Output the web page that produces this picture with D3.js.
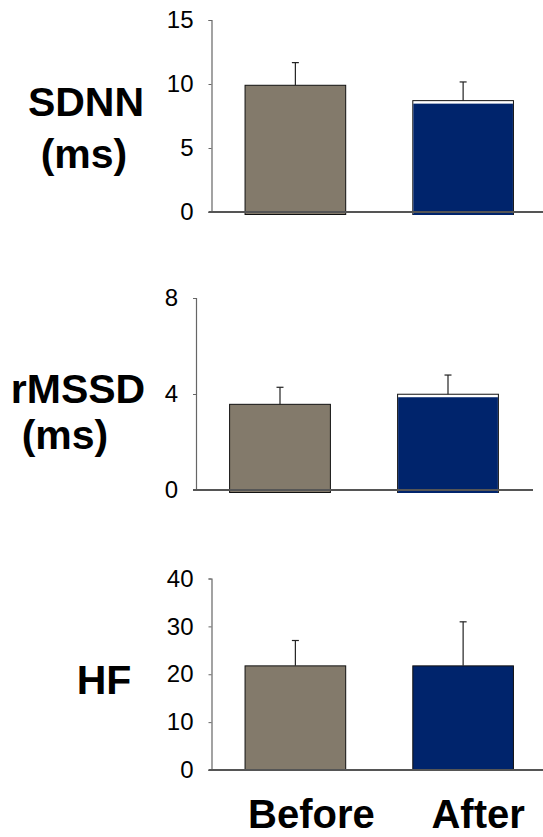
<!DOCTYPE html>
<html><head><meta charset="utf-8">
<script src="https://cdn.jsdelivr.net/npm/d3@7"></script>
<style>body{margin:0;background:#fff}svg{display:block}</style>
</head><body>
<script>
const categories = ["Before", "After"];
const metrics = ["SDNN", "rMSSD", "HF"];
const sdnnMeans = [9.9, 8.7];
const sdnnErrors = [1.77, 1.46];
const rmssdMeans = [3.57, 3.99];
const rmssdErrors = [0.71, 0.80];
const hfMeans = [21.75, 21.75];
const hfErrors = [5.3, 9.2];
const sdnnTicks = [0, 5, 10, 15];
const rmssdTicks = [0, 4, 8];
const hfTicks = [0, 10, 20, 30, 40];

const colors = ["#837a6b", "#00246c"];
const W = 543, H = 837;
const svg = d3.select("body").append("svg").attr("width", W).attr("height", H);

const panels = [
  {means: sdnnMeans, errs: sdnnErrors, ticks: sdnnTicks, max: 15, x0: 211.5, x1: 547, xEnd: 543, yTop: 20, yBot: 212,
   title: ["SDNN", "(ms)"], tpos: [[86, 116], [84, 168]], overhang: 2.5, gap: true},
  {means: rmssdMeans, errs: rmssdErrors, ticks: rmssdTicks, max: 8, x0: 196, x1: 532, xEnd: 533, yTop: 298, yBot: 490,
   title: ["rMSSD", "(ms)"], tpos: [[78, 403], [65, 449]], overhang: 2.5, gap: true},
  {means: hfMeans, errs: hfErrors, ticks: hfTicks, max: 40, x0: 211.5, x1: 547, xEnd: 543, yTop: 578.5, yBot: 770,
   title: ["HF"], tpos: [[104, 694]], overhang: 0, gap: false}
];

panels.forEach((p, pi) => {
  const g = svg.append("g");
  const x = d3.scaleBand().domain(categories).range([p.x0, p.x1]).paddingInner(0.4).paddingOuter(0.2);
  const y = d3.scaleLinear().domain([0, p.max]).range([p.yBot, p.yTop]);

  // y axis
  const ax = g.append("g").attr("transform", `translate(${p.x0},0)`)
    .call(d3.axisLeft(y).tickValues(p.ticks).tickSize(3).tickPadding(15).tickFormat(d3.format("d")));
  ax.select(".domain").attr("stroke", "#666").attr("stroke-width", 1.2);
  ax.selectAll(".tick line").attr("stroke", "#666");
  ax.selectAll(".tick text").attr("font-family", "Liberation Sans, Arial, sans-serif")
    .attr("font-size", 24).attr("fill", "#000");

  // bars
  const data = categories.map((c, i) => ({c, v: p.means[i], e: p.errs[i], i}));
  g.selectAll("rect.bar").data(data).enter().append("rect")
    .attr("x", d => x(d.c)).attr("width", x.bandwidth())
    .attr("y", d => y(d.v)).attr("height", d => y(0) - y(d.v) + p.overhang)
    .attr("fill", d => (p.gap && d.i === 1) ? "#fff" : colors[d.i])
    .attr("stroke", "#111").attr("stroke-width", 1);
  if (p.gap) {
    g.selectAll("rect.inner").data(data.filter(d => d.i === 1)).enter().append("rect")
      .attr("x", d => x(d.c) + 0.5).attr("width", x.bandwidth() - 1)
      .attr("y", d => y(d.v) + 3).attr("height", d => y(0) - y(d.v) - 3 + p.overhang + 0.5)
      .attr("fill", colors[1]);
  }

  // baseline
  g.append("line").attr("x1", p.x0 - 3).attr("x2", p.xEnd).attr("y1", y(0)).attr("y2", y(0))
    .attr("stroke", "#555").attr("stroke-width", 2);

  // error bars
  const cx = d => x(d.c) + x.bandwidth() / 2;
  g.selectAll("line.err").data(data).enter().append("line")
    .attr("x1", cx).attr("x2", cx).attr("y1", d => y(d.v)).attr("y2", d => y(d.v + d.e))
    .attr("stroke", "#222").attr("stroke-width", 1.2);
  g.selectAll("line.cap").data(data).enter().append("line")
    .attr("x1", d => cx(d) - 3.5).attr("x2", d => cx(d) + 3.5)
    .attr("y1", d => y(d.v + d.e)).attr("y2", d => y(d.v + d.e))
    .attr("stroke", "#222").attr("stroke-width", 1.2);

  // title
  p.title.forEach((t, ti) => {
    g.append("text").attr("x", p.tpos[ti][0]).attr("y", p.tpos[ti][1])
      .attr("text-anchor", "middle").attr("font-family", "Liberation Sans, Arial, sans-serif")
      .attr("font-weight", "bold").attr("font-size", 41).text(t);
  });
});

// bottom category labels
const xb = d3.scaleBand().domain(categories).range([211.5, 547]).paddingInner(0.4).paddingOuter(0.2);
svg.selectAll("text.cat").data(categories).enter().append("text")
  .attr("x", (d, i) => xb(d) + xb.bandwidth() / 2 + (i === 0 ? 16 : 15))
  .attr("y", 828).attr("text-anchor", "middle")
  .attr("font-family", "Liberation Sans, Arial, sans-serif").attr("font-weight", "bold")
  .attr("font-size", 40).text(d => d);
</script>
</body></html>
